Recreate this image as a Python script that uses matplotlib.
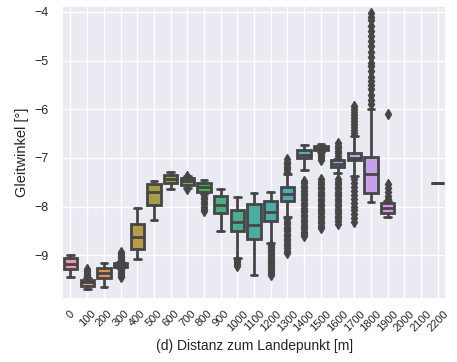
import colorsys
import matplotlib
matplotlib.use("Agg")
import matplotlib.pyplot as plt
import seaborn as sns

sns.set_theme(style="darkgrid")
plt.rcParams['font.family'] = ['Liberation Sans', 'DejaVu Sans']

categories = ["0", "100", "200", "300", "400", "500", "600", "700", "800", "900",
              "1000", "1100", "1200", "1300", "1400", "1500", "1600", "1700",
              "1800", "1900", "2000", "2100", "2200"]

# box statistics (None = no data for this category)
whislo = [-9.45, -9.70, -9.66, -9.27, -9.08, -8.28, -7.64, -7.62, -7.75, -8.51,
          -9.06, -9.41, -8.75, -8.22, -7.25, -6.88, -7.30, -7.38, -7.91, -8.22,
          None, None, -7.51]
q1 = [-9.29, -9.64, -9.47, -9.24, -8.88, -7.97, -7.52, -7.55, -7.71, -8.14,
      -8.51, -8.66, -8.30, -7.89, -7.01, -6.84, -7.19, -7.05, -7.73, -8.14,
      None, None, -7.51]
med = [-9.18, -9.56, -9.37, -9.21, -8.63, -7.70, -7.44, -7.48, -7.60, -7.97,
       -8.32, -8.37, -8.12, -7.75, -6.93, -6.80, -7.12, -7.00, -7.34, -8.02,
       None, None, -7.51]
q3 = [-9.05, -9.50, -9.27, -9.17, -8.36, -7.54, -7.36, -7.42, -7.52, -7.79,
      -8.06, -7.95, -7.89, -7.60, -6.84, -6.76, -7.05, -6.89, -6.99, -7.92,
      None, None, -7.51]
whishi = [-8.99, -9.47, -9.16, -9.14, -8.03, -7.48, -7.28, -7.38, -7.46, -7.64,
          -7.81, -7.73, -7.69, -7.33, -6.74, -6.71, -7.02, -6.55, -6.00, -7.88,
          None, None, -7.51]

fliers = {
    1: [-9.28, -9.32, -9.36, -9.40, -9.44],
    3: [-8.93, -8.97, -9.01, -9.05, -9.09, -9.30, -9.34, -9.38, -9.42, -9.45],
    7: [-7.37, -7.63],
    8: [-7.80, -7.85, -7.90, -7.95, -8.00, -8.05, -8.10],
    10: [-9.10, -9.14, -9.18, -9.22],
    12: [-8.80, -8.84, -8.88, -8.92, -8.96, -9.00, -9.04, -9.08, -9.12, -9.16,
         -9.20, -9.24, -9.28, -9.32, -9.36, -9.40],
    13: [-7.03, -7.08, -7.13, -7.18, -7.23, -7.28,
         -8.26, -8.31, -8.36, -8.41, -8.46, -8.51, -8.56, -8.61, -8.66, -8.71,
         -8.76, -8.81, -8.86, -8.91, -8.96],
    14: [-7.47, -7.52, -7.57, -7.62, -7.67, -7.72, -7.77, -7.82, -7.87, -7.92,
         -7.97, -8.02, -8.07, -8.12, -8.17, -8.22, -8.27, -8.32, -8.37, -8.42,
         -8.47, -8.52, -8.57, -8.61],
    15: [-6.92, -6.96, -7.00, -7.04,
         -7.44, -7.49, -7.54, -7.59, -7.64, -7.69, -7.74, -7.79, -7.84, -7.89,
         -7.94, -7.99, -8.04, -8.09, -8.14, -8.19, -8.24, -8.29, -8.34, -8.39,
         -8.43],
    16: [-6.70, -6.75, -6.80, -6.85, -6.90, -6.95,
         -7.44, -7.49, -7.54, -7.59, -7.64, -7.69, -7.74, -7.79, -7.84, -7.89,
         -7.94, -7.99, -8.04, -8.09, -8.14, -8.19, -8.24, -8.29, -8.36],
    17: [-5.94, -6.00, -6.06, -6.12, -6.18, -6.24, -6.30, -6.36, -6.42, -6.48,
         -7.44, -7.52, -7.60, -7.68, -7.76, -7.84, -7.92, -8.00, -8.08, -8.16,
         -8.24, -8.32],
    18: [-4.03, -4.10, -4.17, -4.29, -4.39, -4.49, -4.60, -4.70, -4.82, -4.92,
         -5.05, -5.12, -5.22, -5.33, -5.42, -5.51, -5.59, -5.70, -5.80, -5.90],
    19: [-6.09, -7.54, -7.62, -7.70, -7.78, -7.85],
}

# --- styling ---
colors = sns.husl_palette(len(categories), l=.7)
colors = [sns.desaturate(c, .75) for c in colors]
lum = min(colorsys.rgb_to_hls(*c)[1] for c in colors) * .6
gray = (lum, lum, lum)

fig = plt.figure(figsize=(4.57, 3.62), dpi=100)
ax = fig.add_axes([0.136, 0.174, 0.840, 0.809])

stats, positions, facecols = [], [], []
for i, cat in enumerate(categories):
    if med[i] is None:
        continue
    stats.append(dict(med=med[i], q1=q1[i], q3=q3[i], whislo=whislo[i],
                      whishi=whishi[i], fliers=fliers.get(i, []), label=cat))
    positions.append(i)
    facecols.append(colors[i])

lw = 2.0
bp = ax.bxp(stats, positions=positions, widths=0.8, patch_artist=True,
            manage_ticks=False,
            boxprops=dict(edgecolor=gray, linewidth=lw),
            medianprops=dict(color=gray, linewidth=lw),
            whiskerprops=dict(color=gray, linewidth=lw),
            capprops=dict(color=gray, linewidth=lw, solid_capstyle='round'),
            flierprops=dict(marker='d', markerfacecolor=gray, markeredgecolor=gray,
                            markersize=5.5, linestyle='none'))
for patch, fc in zip(bp['boxes'], facecols):
    patch.set_facecolor(fc)

ax.set_xticks(range(len(categories)))
ax.set_xticklabels(categories, rotation=45, fontsize=8)
ax.tick_params(axis='x', pad=1)
ax.set_xlim(-0.5, len(categories) - 0.5)
ax.set_ylim(-9.90, -3.88)
ax.set_yticks([-9, -8, -7, -6, -5, -4])
ax.tick_params(axis='y', labelsize=9)
ax.set_xlabel("(d) Distanz zum Landepunkt [m]", fontsize=10)
ax.set_ylabel("Gleitwinkel [°]", fontsize=10.5)

fig.savefig("out.png", dpi=100)
